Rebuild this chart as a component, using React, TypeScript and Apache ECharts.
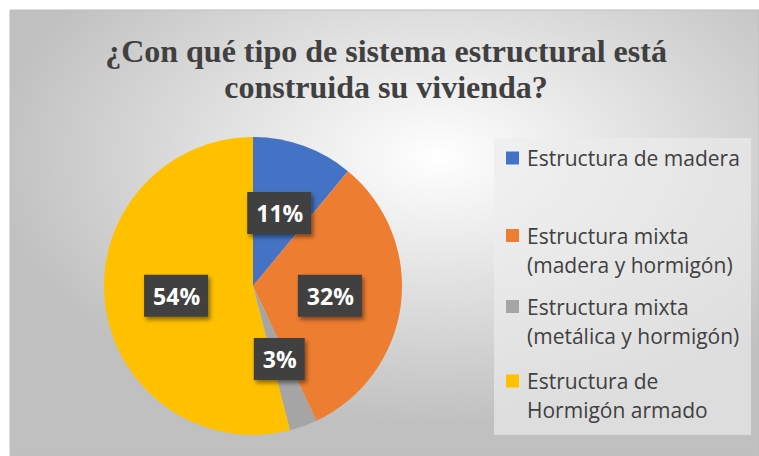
import React, { useEffect, useRef } from "react";
import * as echarts from "echarts";

const titleText = "¿Con qué tipo de sistema estructural está\nconstruida su vivienda?";
const categories = [
  "Estructura de madera",
  "Estructura mixta (madera y hormigón)",
  "Estructura mixta (metálica y hormigón)",
  "Estructura de Hormigón armado",
];
const legendLines = [
  ["Estructura de madera", ""],
  ["Estructura mixta", "(madera y hormigón)"],
  ["Estructura mixta", "(metálica y hormigón)"],
  ["Estructura de", "Hormigón armado"],
];
const values = [11, 32, 3, 54];
const colors = ["#4472C4", "#ED7D31", "#A5A5A5", "#FFC000"];

const legendTops = [147.5, 225, 296, 370.5];

export default function App() {
  const ref = useRef<HTMLDivElement>(null);
  useEffect(() => {
    if (!ref.current) return;
    const chart = echarts.init(ref.current, undefined, { renderer: "svg" });
    const LH = 29;
    const rich: any = {
      t: { fontFamily: "Open Sans", fontSize: 21, color: "#404040", lineHeight: LH },
      g: { width: 8, height: 13, lineHeight: LH },
      p: { width: 21, height: 13, lineHeight: LH },
    };
    colors.forEach((c, i) => {
      rich["m" + i] = { width: 13, height: 13, backgroundColor: c, lineHeight: LH };
    });
    const legends = categories.map((name, i) => ({
      orient: "vertical",
      left: 501,
      top: legendTops[i],
      padding: 0,
      icon: "none",
      itemWidth: 0,
      itemHeight: 13,
      selectedMode: false,
      data: [name],
      formatter: (n: string) => {
        const k = categories.indexOf(n);
        const [a, b] = legendLines[k];
        if (!b) return `{m${k}|}{g|}{t|${a}}`;
        return `{m${k}|}{g|}{t|${a}}\n{p|}{t|${b}}`;
      },
      textStyle: { rich },
    }));
    chart.setOption({
      animation: false,
      title: {
        text: titleText,
        left: 386,
        top: 33,
        padding: 0,
        textAlign: "center",
        textStyle: {
          fontFamily: "Liberation Serif",
          fontWeight: "bold",
          fontSize: 32,
          lineHeight: 36,
          color: "#404040",
        },
      },
      graphic: [
        {
          type: "rect",
          z: -10,
          silent: true,
          shape: { x: 10, y: 10, width: 749, height: 446 },
          style: {
            fill: {
              type: "radial",
              x: 0.57,
              y: 0.33,
              r: 0.6,
              colorStops: [
                { offset: 0, color: "#ffffff" },
                { offset: 1, color: "#c0c0c0" },
              ],
            } as any,
            stroke: "#bdbdbd",
            lineWidth: 1,
          },
        },
        {
          type: "rect",
          z: 1,
          silent: true,
          shape: { x: 494, y: 138, width: 257, height: 297 },
          style: { fill: "rgba(237,237,237,0.65)" },
        },
      ],
      legend: legends,
      series: [
        {
          type: "pie",
          center: [253, 286],
          radius: 149,
          startAngle: 90,
          clockwise: true,
          silent: true,
          emphasis: { disabled: true },
          itemStyle: { borderWidth: 0 },
          data: categories.map((n, i) => ({
            name: n,
            value: values[i],
            itemStyle: { color: colors[i] },
          })),
          label: {
            show: true,
            position: "inside",
            formatter: "{c}%",
            fontFamily: "Open Sans",
            fontWeight: "bold",
            fontSize: 23,
            lineHeight: 23,
            color: "#ffffff",
            backgroundColor: "#404040",
            padding: [9.5, 8, 9.5, 9],
            shadowColor: "rgba(0,0,0,0.45)",
            shadowBlur: 4,
            shadowOffsetX: 2,
            shadowOffsetY: 3,
          },
          labelLine: { show: false },
        },
      ],
    });
    return () => chart.dispose();
  }, []);
  return (
    <div
      ref={ref}
      style={{ position: "fixed", left: 0, top: 0, width: 759, height: 456, background: "#ffffff" }}
    />
  );
}
